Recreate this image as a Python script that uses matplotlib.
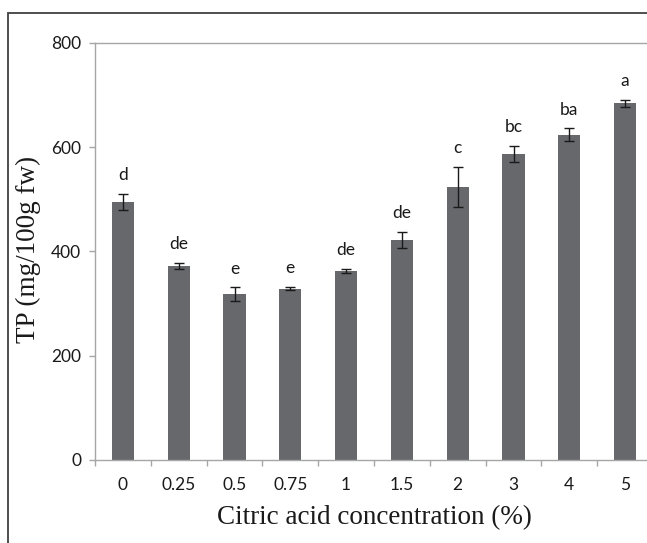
import matplotlib
matplotlib.use("Agg")
import matplotlib.pyplot as plt
from matplotlib.patches import Rectangle

categories = ["0", "0.25", "0.5", "0.75", "1", "1.5", "2", "3", "4", "5"]
tp_values = [495, 372, 318, 329, 363, 422, 524, 587, 624, 684]
tp_errors = [16, 6, 13, 3, 4, 15, 38, 15, 12, 6]
letters = ["d", "de", "e", "e", "de", "de", "c", "bc", "ba", "a"]
y_ticks = [0, 200, 400, 600, 800]

W, H = 647, 543
fig = plt.figure(figsize=(W / 100, H / 100), dpi=100)
fig.patch.set_facecolor("white")

ax = fig.add_axes([95 / W, 83 / H, 558 / W, 417 / H])
x = list(range(len(categories)))
ax.bar(x, tp_values, width=0.40, color="#67686c", zorder=2)
ax.errorbar(x, tp_values, yerr=tp_errors, fmt="none", ecolor="#1a1a1a",
            elinewidth=1.0, capsize=3.5, capthick=1.0, zorder=3)

for xi, v, e, lab in zip(x, tp_values, tp_errors, letters):
    ax.annotate(lab, (xi, v + e), xytext=(0, 10), textcoords="offset points",
                ha="center", va="baseline", fontsize=12.5, family="Lato",
                color="#1a1a1a")

ax.set_xlim(-0.5, len(categories) - 0.5)
ax.set_ylim(0, 800)
ax.set_yticks(y_ticks)
ax.set_yticklabels([str(t) for t in y_ticks], family="Lato", fontsize=12.5, color="#1a1a1a")
ax.set_xticks(x)
ax.set_xticklabels(categories, family="Lato", fontsize=12.5, color="#1a1a1a")
ax.set_xticks([i + 0.5 for i in range(-1, len(categories))], minor=True)
ax.tick_params(axis="x", which="major", length=0, pad=12.5)
ax.tick_params(axis="x", which="minor", length=4, width=1, color="#a6a6a6", direction="out")
ax.tick_params(axis="y", length=4, width=1, color="#a6a6a6", direction="out", pad=6)

for s in ["left", "bottom", "top"]:
    ax.spines[s].set_color("#a6a6a6")
    ax.spines[s].set_linewidth(1.0)
ax.spines["right"].set_visible(False)

ax.set_xlabel("Citric acid concentration (%)", family="Liberation Serif", fontsize=19.5,
              color="#1a1a1a")
ax.xaxis.set_label_coords(0.5, -0.139)
ax.xaxis.label.set_va("center")
ax.set_ylabel("TP (mg/100g fw)", family="Liberation Serif", fontsize=19.5, color="#1a1a1a")
ax.yaxis.set_label_coords(-0.120, 0.506)
ax.yaxis.label.set_va("center")

fig.patches.append(Rectangle((8 / W, -0.1), 1.2, 1 - 13 / H + 0.1,
                             transform=fig.transFigure, fill=False,
                             edgecolor="#404040", linewidth=1.3))

fig.savefig("out.png", dpi=100)
